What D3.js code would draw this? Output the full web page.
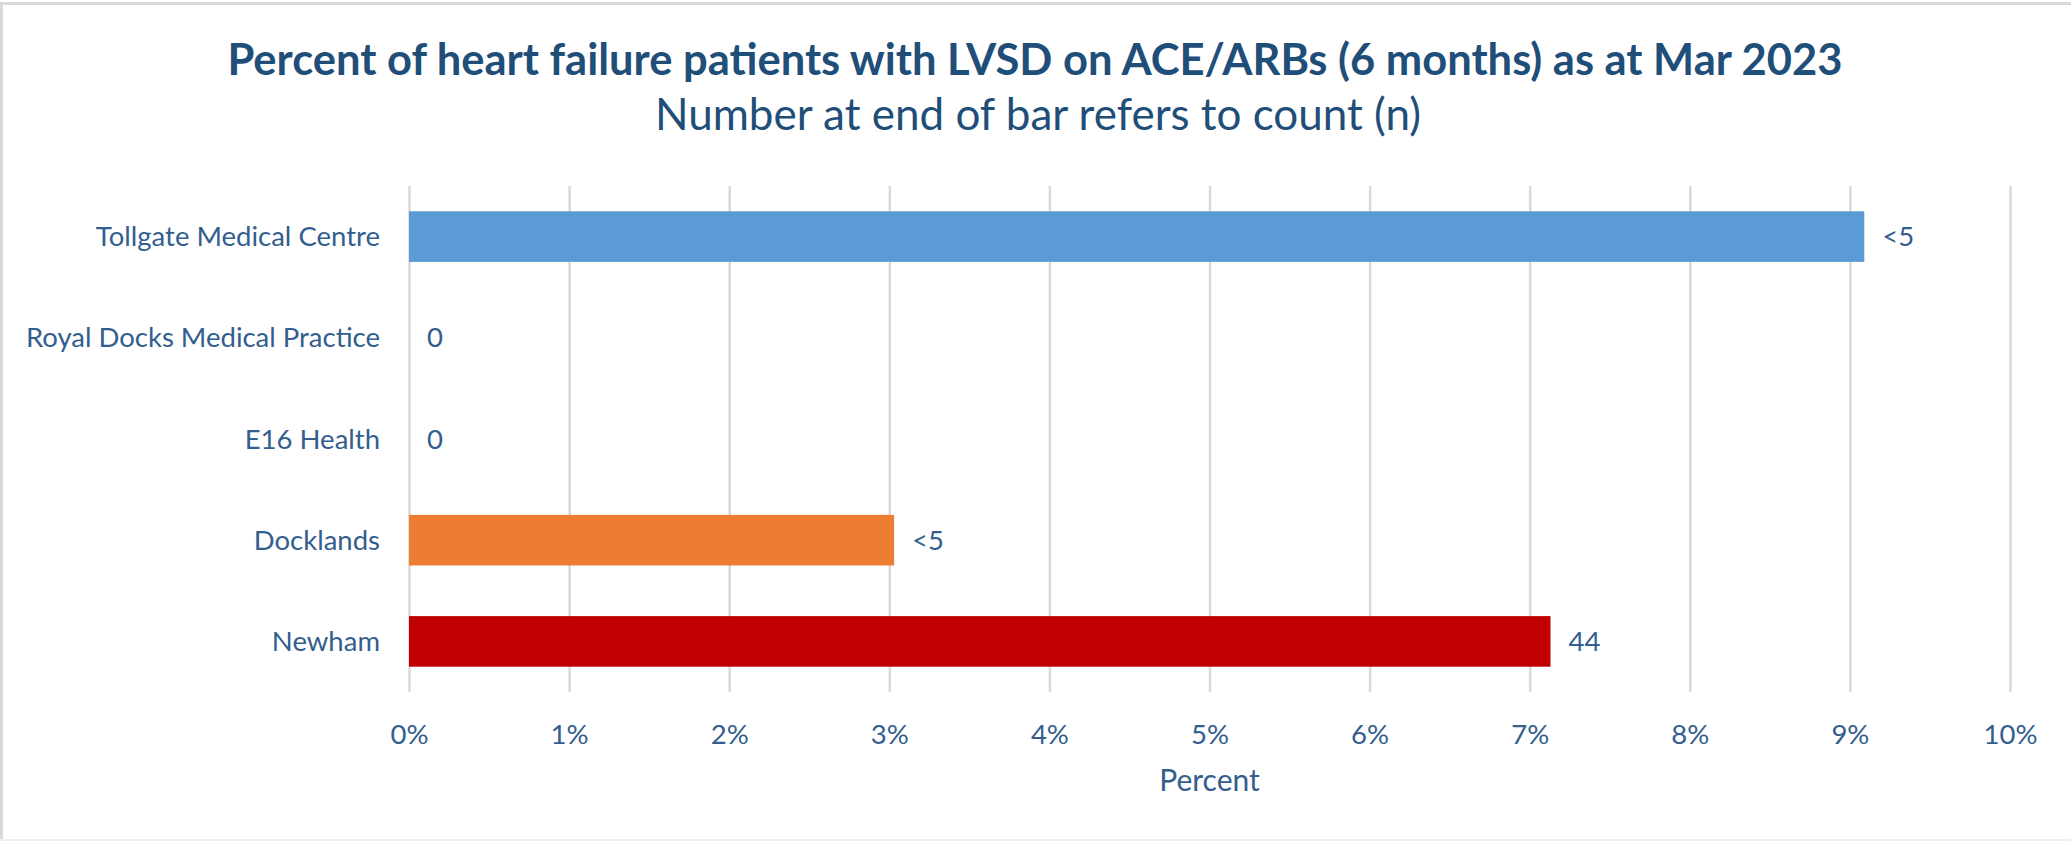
<!DOCTYPE html>
<html lang="en">
<head>
  <meta charset="UTF-8">
  <title>Heart failure LVSD ACE/ARBs</title>
  <script src="https://d3js.org/d3.v7.min.js"></script>
  <style>
    body {
      margin: 0;
      background: #ffffff;
      font-family: Lato, "Open Sans", sans-serif;
    }
  </style>
</head>
<body>
  <svg width="2071" height="841"></svg>
  <script>
    // Data
    const practices = ["Tollgate Medical Centre", "Royal Docks Medical Practice", "E16 Health", "Docklands", "Newham"];
    const percents = [9.09, 0, 0, 3.03, 7.13];
    const counts = ["<5", "0", "0", "<5", "44"];
    const barColors = ["#5B9BD5", "#5B9BD5", "#5B9BD5", "#ED7D31", "#C00000"];
    const tickValues = [0, 1, 2, 3, 4, 5, 6, 7, 8, 9, 10];

    const width = 2071,
          height = 841;
    const margin = {top: 186, right: 61, bottom: 149, left: 409};
    const labelColor = "#335E8E",
          titleColor = "#1F4E79";

    const svg = d3.select("svg");

    // outer chart border (top and left edges visible in the original)
    svg.append("rect")
       .attr("x", 0).attr("y", 2)
       .attr("width", width).attr("height", 3)
       .attr("fill", "#d9d9d9");
    svg.append("rect")
       .attr("x", 0).attr("y", 2)
       .attr("width", 3).attr("height", height - 2)
       .attr("fill", "#d9d9d9");
    svg.append("rect")
       .attr("x", 0).attr("y", height - 2)
       .attr("width", width).attr("height", 2)
       .attr("fill", "#eeeeee");

    const x = d3.scaleLinear()
                .domain([0, 10])
                .range([margin.left, width - margin.right]);

    const y = d3.scaleBand()
                .domain(practices)
                .range([margin.top, height - margin.bottom])
                .paddingInner(0.5)
                .paddingOuter(0.25);

    // x axis with gridlines
    const xAxis = svg.append("g")
                     .attr("transform", "translate(0," + (height - margin.bottom) + ")")
                     .call(d3.axisBottom(x)
                             .tickValues(tickValues)
                             .tickFormat(d => d + "%")
                             .tickSizeInner(-(height - margin.top - margin.bottom))
                             .tickSizeOuter(0)
                             .tickPadding(0));
    xAxis.select(".domain").remove();
    xAxis.selectAll(".tick line")
         .attr("stroke", "#d9d9d9")
         .attr("stroke-width", 2.5);
    xAxis.selectAll(".tick text")
         .attr("y", 52)
         .attr("dy", null)
         .attr("fill", labelColor)
         .style("font-family", "Lato, sans-serif")
         .style("font-size", "27.5px");

    // bars
    svg.selectAll(".bar")
       .data(practices)
       .enter()
       .append("rect")
       .attr("class", "bar")
       .attr("x", x(0))
       .attr("y", d => y(d))
       .attr("width", (d, i) => x(percents[i]) - x(0))
       .attr("height", y.bandwidth())
       .attr("fill", (d, i) => barColors[i]);

    // count labels at end of bars
    svg.selectAll(".count")
       .data(practices)
       .enter()
       .append("text")
       .attr("class", "count")
       .attr("x", (d, i) => x(percents[i]) + 18)
       .attr("y", d => y(d) + y.bandwidth() / 2)
       .attr("dy", "0.35em")
       .attr("fill", labelColor)
       .style("font-size", "27.5px")
       .text((d, i) => counts[i]);

    // category labels
    svg.selectAll(".cat")
       .data(practices)
       .enter()
       .append("text")
       .attr("class", "cat")
       .attr("x", x(0) - 29)
       .attr("y", d => y(d) + y.bandwidth() / 2)
       .attr("dy", "0.35em")
       .attr("text-anchor", "end")
       .attr("fill", labelColor)
       .style("font-size", "27.5px")
       .text(d => d);

    // axis title
    svg.append("text")
       .attr("x", (x(0) + x(10)) / 2)
       .attr("y", 791)
       .attr("text-anchor", "middle")
       .attr("fill", labelColor)
       .style("font-size", "30px")
       .text("Percent");

    // titles
    svg.append("text")
       .attr("x", 1035)
       .attr("y", 75)
       .attr("text-anchor", "middle")
       .attr("fill", titleColor)
       .style("font-size", "43.5px")
       .style("font-weight", "bold")
       .text("Percent of heart failure patients with LVSD on ACE/ARBs (6 months) as at Mar 2023");

    svg.append("text")
       .attr("x", 1038)
       .attr("y", 130)
       .attr("text-anchor", "middle")
       .attr("fill", titleColor)
       .style("font-size", "44px")
       .text("Number at end of bar refers to count (n)");
  </script>
</body>
</html>
